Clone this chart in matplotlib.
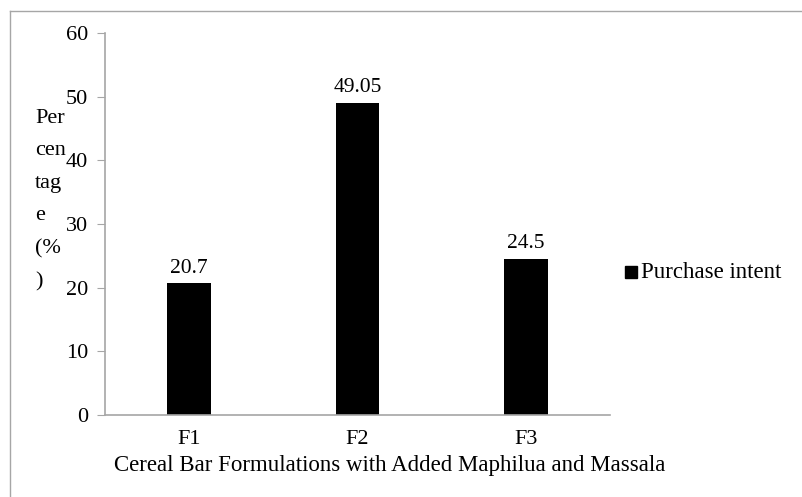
import matplotlib.pyplot as plt
from matplotlib.lines import Line2D
from matplotlib.patches import Rectangle

# chart data
formulations = ['F1', 'F2', 'F3']
purchase_intent = [20.7, 49.05, 24.5]
value_labels = ['20.7', '49.05', '24.5']
y_ticks = [0, 10, 20, 30, 40, 50, 60]

plt.rcParams['font.family'] = ['Liberation Serif', 'DejaVu Serif']
W, H = 803, 497
fig = plt.figure(figsize=(W / 100, H / 100), dpi=100)
ax = fig.add_axes([105 / W, 1 - 415 / H, 505 / W, 382 / H])

x = range(len(formulations))
ax.bar(x, purchase_intent, width=0.26, color='black', label='Purchase intent')
for i, (v, lab) in enumerate(zip(purchase_intent, value_labels)):
    ax.annotate(lab, (i, v), xytext=(0, 4), textcoords='offset points',
                ha='center', va='bottom', fontsize=15.5)

ax.set_xlim(-0.5, 2.5)
ax.set_ylim(0, 60)
ax.set_yticks(y_ticks)
ax.set_xticks(list(x))
ax.set_xticklabels(formulations)
ax.tick_params(axis='y', length=6, color='#a6a6a6', labelsize=16, pad=6)
ax.tick_params(axis='x', length=0, labelsize=16, pad=11)
for s in ['top', 'right']:
    ax.spines[s].set_visible(False)
for s in ['left', 'bottom']:
    ax.spines[s].set_color('#a6a6a6')
    ax.spines[s].set_linewidth(1.2)

# axis title, centred on the chart area rather than the plot area
fig.text(390 / W, 1 - 465 / H,
         'Cereal Bar Formulations with Added Maphilua and Massala',
         fontsize=16.5, ha='center', va='center')

# wrapped y label as in the source
fig.text(35 / W, 1 - 200 / H, 'Per\ncen\ntag\ne\n(%\n)', fontsize=16,
         ha='left', va='center', linespacing=1.97)

# legend drawn by hand
fig.add_artist(Rectangle((625 / W, 1 - 278 / H), 12 / W, 12 / H,
                         transform=fig.transFigure, color='black'))
fig.text(641 / W, 1 - 273 / H, 'Purchase intent', fontsize=16.5,
         ha='left', va='center')

# outer frame
fig.add_artist(Line2D([10 / W, 10 / W], [0, 1 - 11 / H], color='#a6a6a6',
                      lw=1, transform=fig.transFigure))
fig.add_artist(Line2D([10 / W, 1], [1 - 11 / H, 1 - 11 / H], color='#a6a6a6',
                      lw=1, transform=fig.transFigure))

fig.savefig('out.png', dpi=100)
